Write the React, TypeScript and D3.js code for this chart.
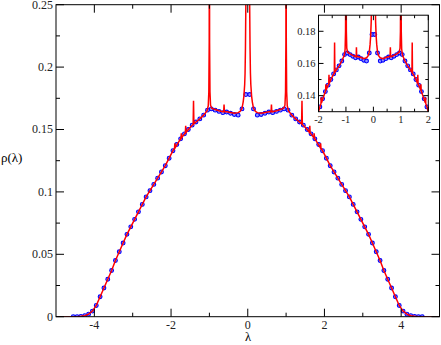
import React from "react";
import * as d3 from "d3";

const W = 441;
const H = 345;

// blue circles: sampled density
const blueLam = [
  -4.55, -4.45, -4.35, -4.25, -4.15, -4.05, -3.95, -3.85, -3.75, -3.65, -3.55, -3.45,
  -3.35, -3.25, -3.15, -3.05, -2.95, -2.85, -2.75, -2.65, -2.55, -2.45, -2.35, -2.25,
  -2.15, -2.05, -1.95, -1.85, -1.75, -1.65, -1.55, -1.45, -1.35, -1.25, -1.15, -1.05,
  -0.95, -0.85, -0.75, -0.65, -0.55, -0.45, -0.35, -0.25, -0.15, -0.05,
  0.05, 0.15, 0.25, 0.35, 0.45, 0.55, 0.65, 0.75, 0.85, 0.95, 1.05, 1.15, 1.25, 1.35,
  1.45, 1.55, 1.65, 1.75, 1.85, 1.95, 2.05, 2.15, 2.25, 2.35, 2.45, 2.55, 2.65, 2.75,
  2.85, 2.95, 3.05, 3.15, 3.25, 3.35, 3.45, 3.55, 3.65, 3.75, 3.85, 3.95, 4.05, 4.15,
  4.25, 4.35, 4.45, 4.55,
];
const blueRho = [
  0, 0, 0.0003, 0.0008, 0.002, 0.0045, 0.009, 0.016, 0.023, 0.03, 0.037, 0.045,
  0.052, 0.059, 0.066, 0.072, 0.078, 0.084, 0.09, 0.096, 0.101, 0.106, 0.111, 0.116,
  0.121, 0.127, 0.133, 0.138, 0.1425, 0.1465, 0.15, 0.1535, 0.156, 0.1585, 0.1615, 0.1655,
  0.1665, 0.1655, 0.1645, 0.1635, 0.164, 0.163, 0.162, 0.1615, 0.1665, 0.178,
  0.178, 0.1665, 0.1615, 0.162, 0.163, 0.164, 0.1635, 0.1645, 0.1655, 0.1665, 0.1655, 0.1615, 0.1585, 0.156,
  0.1535, 0.15, 0.1465, 0.1425, 0.138, 0.133, 0.127, 0.121, 0.116, 0.111, 0.106, 0.101, 0.096, 0.09,
  0.084, 0.078, 0.072, 0.066, 0.059, 0.052, 0.045, 0.037, 0.03, 0.023, 0.016, 0.009, 0.0045, 0.002,
  0.0008, 0.0003, 0, 0,
];

// red line: fine-resolution density with spikes
const redLam = [
  -5, -4.55, -4.45, -4.35, -4.25, -4.15, -4.05, -3.95, -3.85, -3.75, -3.65, -3.55, -3.45,
  -3.35, -3.25, -3.15, -3.05, -2.95, -2.85, -2.75, -2.65, -2.55, -2.45, -2.35, -2.25,
  -2.15, -2.05, -1.95, -1.91, -1.9, -1.89, -1.8, -1.742, -1.732, -1.722, -1.65, -1.628,
  -1.618, -1.608, -1.55, -1.46, -1.424, -1.414, -1.404, -1.35, -1.25, -1.15, -1.06, -1.03,
  -1.015, -1.005, -1.0, -0.995, -0.985, -0.97, -0.94, -0.85, -0.75, -0.65, -0.628, -0.618,
  -0.608, -0.55, -0.45, -0.35, -0.25, -0.2, -0.15, -0.12, -0.1, -0.08, -0.07, -0.06,
  -0.05, -0.04, -0.02, 0,
  0.02, 0.04, 0.05, 0.06, 0.07, 0.08, 0.1, 0.12, 0.15, 0.2, 0.25, 0.35, 0.45, 0.55,
  0.608, 0.618, 0.628, 0.65, 0.75, 0.85, 0.94, 0.97, 0.985, 0.995, 1.0, 1.005, 1.015,
  1.03, 1.06, 1.15, 1.25, 1.35, 1.404, 1.414, 1.424, 1.46, 1.55, 1.608, 1.618, 1.628,
  1.65, 1.722, 1.732, 1.742, 1.8, 1.89, 1.9, 1.91, 1.95, 2.05, 2.15, 2.25, 2.35, 2.45,
  2.55, 2.65, 2.75, 2.85, 2.95, 3.05, 3.15, 3.25, 3.35, 3.45, 3.55, 3.65, 3.75, 3.85,
  3.95, 4.05, 4.15, 4.25, 4.35, 4.45, 4.55, 5,
];
const redRho = [
  0, 0, 0, 0.0003, 0.0008, 0.002, 0.0045, 0.009, 0.016, 0.023, 0.03, 0.037, 0.045,
  0.052, 0.059, 0.066, 0.072, 0.078, 0.084, 0.09, 0.096, 0.101, 0.106, 0.111, 0.116,
  0.121, 0.127, 0.133, 0.135, 0.139, 0.1355, 0.14, 0.143, 0.147, 0.1435, 0.1465, 0.1472,
  0.153, 0.1476, 0.15, 0.153, 0.154, 0.173, 0.1545, 0.156, 0.1585, 0.1615, 0.165, 0.169,
  0.18, 0.22, 0.4, 0.22, 0.18, 0.1695, 0.167, 0.166, 0.165, 0.1642, 0.1642, 0.17,
  0.1642, 0.1642, 0.1637, 0.163, 0.1635, 0.1645, 0.167, 0.172, 0.177, 0.186, 0.195, 0.215,
  0.25, 0.3, 0.4, 0.45,
  0.4, 0.3, 0.25, 0.215, 0.195, 0.186, 0.177, 0.172, 0.167, 0.1645, 0.1635, 0.163, 0.1637, 0.1642,
  0.1642, 0.17, 0.1642, 0.1642, 0.165, 0.166, 0.167, 0.1695, 0.18, 0.22, 0.4, 0.22, 0.18,
  0.169, 0.165, 0.1615, 0.1585, 0.156, 0.1545, 0.173, 0.154, 0.153, 0.15, 0.1476, 0.153, 0.1472,
  0.1465, 0.1435, 0.147, 0.143, 0.14, 0.1355, 0.139, 0.135, 0.133, 0.127, 0.121, 0.116, 0.111, 0.106,
  0.101, 0.096, 0.09, 0.084, 0.078, 0.072, 0.066, 0.059, 0.052, 0.045, 0.037, 0.03, 0.023, 0.016,
  0.009, 0.0045, 0.002, 0.0008, 0.0003, 0, 0, 0,
];

const mainXTicks = [-4, -2, 0, 2, 4];
const mainXMinor = [-3, -1, 1, 3];
const mainYTicks = [0, 0.05, 0.1, 0.15, 0.2, 0.25];
const mainYLabels = ["0", "0.05", "0.1", "0.15", "0.2", "0.25"];
const mainYMinor = [0.025, 0.075, 0.125, 0.175, 0.225];

const insetXTicks = [-2, -1, 0, 1, 2];
const insetXMinor = [-1.5, -0.5, 0.5, 1.5];
const insetYTicks = [0.14, 0.16, 0.18];
const insetYMinor = [0.15, 0.17];

const FONT = "Liberation Serif, Times New Roman, DejaVu Serif, serif";

function Panel({ id, x, y, xTicks, xMinor, yTicks, yLabels, yMinor, major, minor,
  fontSize, xLabelDy, yLabelDx }: any) {
  const [x0, x1] = x.range();
  const [y0, y1] = y.range(); // y0 bottom, y1 top
  const line = d3.line<number>()
    .x((_, i) => x(redLam[i]))
    .y((d) => y(d));
  const pts = blueLam
    .map((l, i) => [l, blueRho[i]])
    .filter(([l, r]) => l >= x.domain()[0] - 0.05 && l <= x.domain()[1] + 0.05 && r >= y.domain()[0] - 0.003 && r <= y.domain()[1] + 0.003);
  return (
    <g>
      <rect x={x0} y={y1} width={x1 - x0} height={y0 - y1} fill="#fff" />
      <clipPath id={id}>
        <rect x={x0} y={y1} width={x1 - x0} height={y0 - y1} />
      </clipPath>
      <g clipPath={`url(#${id})`}>
        {pts.map(([l, r], i) => (
          <circle key={i} cx={x(l)} cy={y(r)} r={1.9} fill="#9090ff" stroke="#0000ff" strokeWidth={1.1} />
        ))}
        <path d={line(redRho) || ""} fill="none" stroke="#ff0000" strokeWidth={1.5} />
      </g>
      <g stroke="#000" strokeWidth={1}>
        {xTicks.map((t: number) => (
          <g key={"xt" + t}>
            <line x1={x(t)} x2={x(t)} y1={y0} y2={y0 - major} />
            <line x1={x(t)} x2={x(t)} y1={y1} y2={y1 + major} />
          </g>
        ))}
        {xMinor.map((t: number) => (
          <g key={"xm" + t}>
            <line x1={x(t)} x2={x(t)} y1={y0} y2={y0 - minor} />
            <line x1={x(t)} x2={x(t)} y1={y1} y2={y1 + minor} />
          </g>
        ))}
        {yTicks.map((t: number) => (
          <g key={"yt" + t}>
            <line x1={x0} x2={x0 + major} y1={y(t)} y2={y(t)} />
            <line x1={x1} x2={x1 - major} y1={y(t)} y2={y(t)} />
          </g>
        ))}
        {yMinor.map((t: number) => (
          <g key={"ym" + t}>
            <line x1={x0} x2={x0 + minor} y1={y(t)} y2={y(t)} />
            <line x1={x1} x2={x1 - minor} y1={y(t)} y2={y(t)} />
          </g>
        ))}
      </g>
      <rect x={x0} y={y1} width={x1 - x0} height={y0 - y1} fill="none" stroke="#000" strokeWidth={1} />
      <g style={{ fontFamily: FONT, fontSize: fontSize + "px" }} fill="#222">
        {xTicks.map((t: number) => (
          <text key={"xl" + t} x={x(t)} y={y0 + xLabelDy} textAnchor="middle">{String(t)}</text>
        ))}
        {yTicks.map((t: number, i: number) => (
          <text key={"yl" + t} x={x0 - yLabelDx} y={y(t) + fontSize * 0.33} textAnchor="end">{yLabels[i]}</text>
        ))}
      </g>
    </g>
  );
}

export default function App() {
  const mx = d3.scaleLinear().domain([-5, 5]).range([56, 439.5]);
  const my = d3.scaleLinear().domain([0, 0.25]).range([316.7, 4.7]);
  const ix = d3.scaleLinear().domain([-2, 2]).range([318.5, 428.3]);
  const iy = d3.scaleLinear().domain([0.13, 0.19]).range([111.7, 15.2]);

  return (
    <svg width={W} height={H} style={{ position: "absolute", left: 0, top: 0, background: "#fff" }}>
      <Panel id="clipMain" x={mx} y={my} xTicks={mainXTicks} xMinor={mainXMinor}
        yTicks={mainYTicks} yLabels={mainYLabels} yMinor={mainYMinor}
        major={8} minor={4} fontSize={12} xLabelDy={12} yLabelDx={3} />
      <text x={248} y={341} textAnchor="middle" style={{ fontFamily: FONT, fontSize: "12.5px" }}>λ</text>
      <text x={1} y={162} style={{ fontFamily: FONT, fontSize: "13px" }}>ρ(λ)</text>
      <Panel id="clipInset" x={ix} y={iy} xTicks={insetXTicks} xMinor={insetXMinor}
        yTicks={insetYTicks} yLabels={insetYTicks.map(String)} yMinor={insetYMinor}
        major={5} minor={3} fontSize={10.5} xLabelDy={11.5} yLabelDx={3} />
    </svg>
  );
}
